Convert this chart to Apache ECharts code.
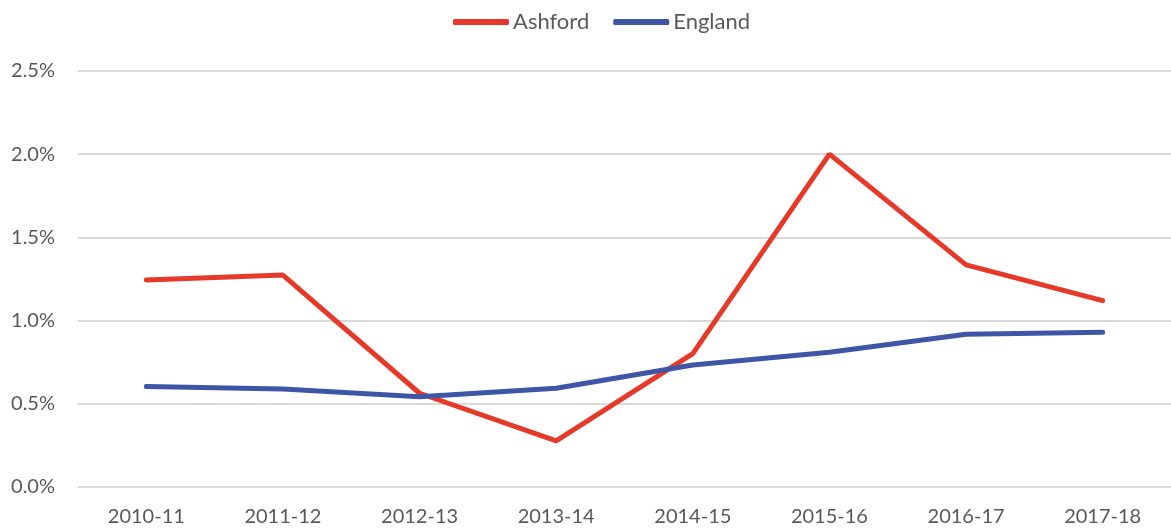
<!DOCTYPE html>
<html><head><meta charset="utf-8">
<script src="https://cdn.jsdelivr.net/npm/echarts@6/dist/echarts.min.js"></script>
<style>html,body{margin:0;padding:0;background:#fff}#c{width:1171px;height:532px}</style>
</head><body><div id="c"></div>
<script>
const categories = ['2010-11','2011-12','2012-13','2013-14','2014-15','2015-16','2016-17','2017-18'];
const ashford = [1.243, 1.273, 0.562, 0.275, 0.80, 2.0, 1.334, 1.119];
const england = [0.602, 0.588, 0.541, 0.592, 0.732, 0.809, 0.917, 0.929];
const yTicks = [0, 0.5, 1.0, 1.5, 2.0, 2.5];

const font = 'Lato, "Open Sans", sans-serif';
const chart = echarts.init(document.getElementById('c'));
chart.setOption({
  animation: false,
  legend: {
    top: 6, left: 448, itemGap: 24, itemWidth: 56, itemHeight: 6,
    icon: 'roundRect',
    textStyle: {fontFamily: font, fontSize: 22, color: '#595959', padding: [0, 0, 0, -1]},
    data: ['Ashford', 'England']
  },
  grid: {left: 78, top: 71, width: 1097, bottom: 45.3, containLabel: false},
  xAxis: {
    type: 'category', data: categories, boundaryGap: true,
    axisLine: {show: false}, axisTick: {show: false},
    axisLabel: {fontFamily: font, fontSize: 20, color: '#595959', margin: 20}
  },
  yAxis: {
    type: 'value', min: yTicks[0], max: yTicks[yTicks.length-1], interval: 0.5,
    axisLine: {show: false}, axisTick: {show: false},
    splitLine: {lineStyle: {color: '#d9d9d9', width: 2}},
    axisLabel: {fontFamily: font, fontSize: 20, color: '#595959', margin: 23,
      formatter: v => v.toFixed(1) + '%'}
  },
  series: [
    {name: 'Ashford', type: 'line', data: ashford, symbol: 'none',
     color: '#E5392A', lineStyle: {width: 5, color: '#E5392A', cap: 'round'}},
    {name: 'England', type: 'line', data: england, symbol: 'none',
     color: '#3F56A6', lineStyle: {width: 5, color: '#3F56A6', cap: 'round'}}
  ]
});
</script></body></html>
